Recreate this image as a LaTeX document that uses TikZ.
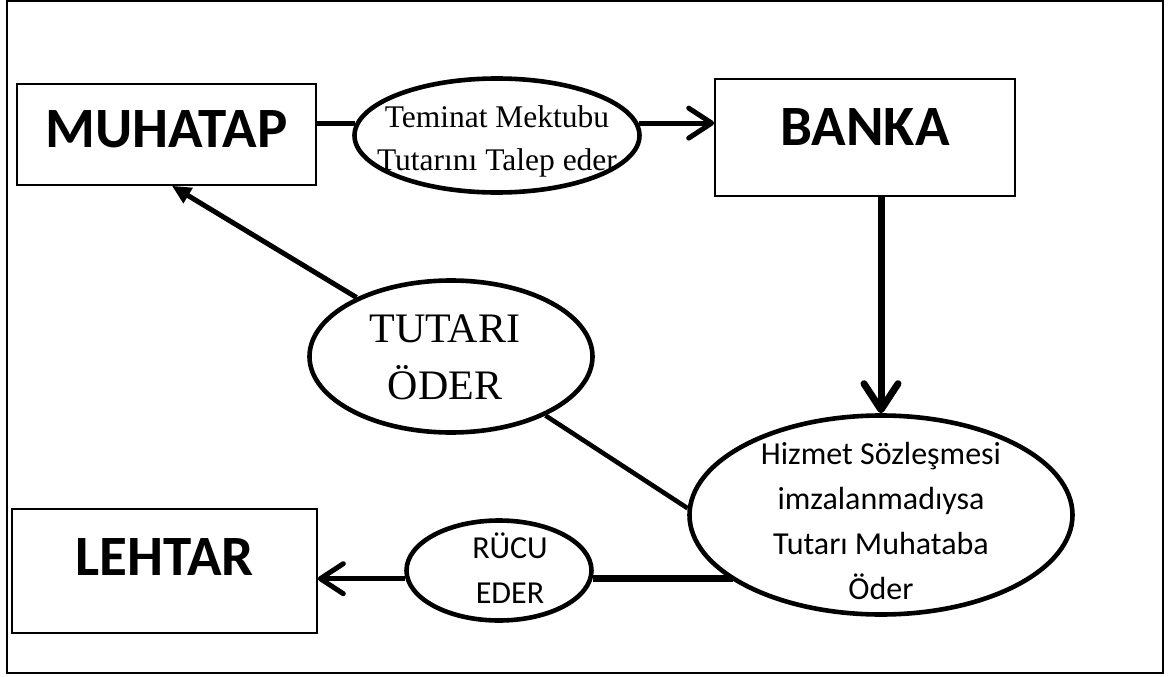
\documentclass[tikz,border=0pt]{standalone}
\usepackage{fontspec}
\usetikzlibrary{shapes.geometric,arrows.meta}
\newfontfamily\carlito{Carlito}
\newfontfamily\libserif{Liberation Serif}
\begin{document}
\begin{tikzpicture}[x=1pt,y=-1pt,
  partybox/.style={draw,line width=1.6pt,rectangle,inner sep=0pt,
    font=\carlito\bfseries\fontsize{57}{68}\selectfont,text height=36pt},
  bubble/.style={draw,line width=4.6pt,ellipse,inner sep=0pt},
  flow/.style={line width=5pt},
  barb/.style={-{Straight Barb[length=23pt,width=30pt,round]}},
  serifsmall/.style={font=\libserif\fontsize{31.5}{43}\selectfont,align=center},
  seriflarge/.style={font=\libserif\fontsize{42}{57}\selectfont,align=center},
  sanstext/.style={font=\carlito\fontsize{32}{45}\selectfont,align=center},
]
\useasboundingbox (0,0) rectangle (1173,677);
% outer frame
\draw[line width=1.6pt] (7,1) rectangle (1163,673);

% parties
\node[partybox,minimum width=299pt,minimum height=101pt,text depth=11pt] (muh) at (166.5,134.5) {MUHATAP};
\node[partybox,minimum width=300pt,minimum height=117pt,text depth=21pt] (ban) at (865,137.5) {BANKA};
\node[partybox,minimum width=305pt,minimum height=124pt,text depth=28pt] (leh) at (164.5,571) {LEHTAR};

% process bubbles
\node[bubble,minimum width=285pt,minimum height=114pt] (tem) at (497,135.5) {};
\node[bubble,minimum width=283pt,minimum height=152pt] (tut) at (451,356.5) {};
\node[bubble,minimum width=383pt,minimum height=199pt] (hiz) at (881,515) {};
\node[bubble,minimum width=185pt,minimum height=100pt] (ruc) at (499,570.5) {};

% bubble texts
\node[serifsmall] (temtxt) at (497,141) {Teminat Mektubu\\Tutarını Talep eder};
\node[seriflarge] (tuttxt) at (445,357.5) {TUTARI\\ÖDER};
\node[sanstext] (hiztxt) at (881,521) {Hizmet Sözleşmesi\\imzalanmadıysa\\Tutarı Muhataba\\Öder};
\node[sanstext] (ructxt) at (510,568) {RÜCU\\EDER};

% connectors
\draw[flow] (tem.175 -| muh.east) -- (tem.175);
\draw[flow,barb] (tem.5) -- (tem.5 -| ban.west);
\draw[line width=7pt,-{Straight Barb[length=26pt,width=34pt,round]}] (hiz.north |- ban.south) -- (hiz.north);
\draw[flow,-{Triangle[length=19pt,width=17pt]}] (tut.148) -- (muh.276);
\draw[line width=4.6pt] (hiz.178) -- (tut.328);
\draw[line width=6.5pt] (ruc.-5 -| hiz.204) -- (ruc.-5);
\draw[flow,barb] (ruc.185) -- (ruc.185 -| leh.east);
\end{tikzpicture}
\end{document}
